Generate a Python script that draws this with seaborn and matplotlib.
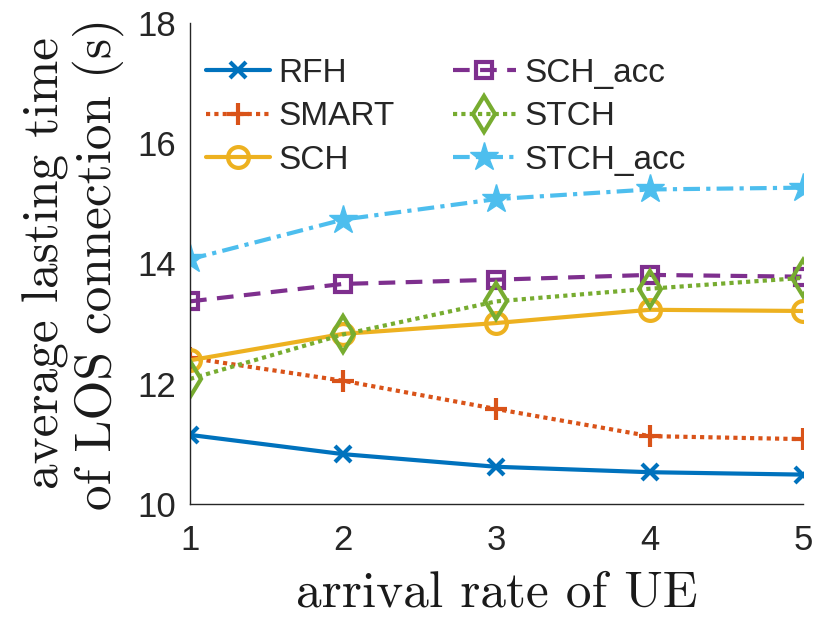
import matplotlib
matplotlib.use("Agg")
import matplotlib.pyplot as plt
import seaborn as sns
import pandas as pd

x = [1, 2, 3, 4, 5]
rfh = [11.15, 10.83, 10.62, 10.53, 10.49]
smart = [12.43, 12.05, 11.58, 11.13, 11.08]
sch = [12.39, 12.83, 13.01, 13.23, 13.21]
sch_acc = [13.37, 13.66, 13.73, 13.81, 13.78]
stch = [12.08, 12.82, 13.37, 13.58, 13.76]
stch_acc = [14.07, 14.73, 15.07, 15.23, 15.26]

names = ["RFH", "SMART", "SCH", "SCH_acc", "STCH", "STCH_acc"]
series = [rfh, smart, sch, sch_acc, stch, stch_acc]
colors = ["#0072BD", "#D95319", "#EDB120", "#7E2F8E", "#77AC30", "#4DBEEE"]
markers = ["x", "+", "o", "s", "d", "*"]
lstyles = ["-", (0, (1, 1)), "-", (0, (4, 2.5)), (0, (1, 1)), (0, (4, 1.5, 1, 1.5))]
msizes = [11, 16, 15, 12, 18, 21]
filled = [True, True, False, False, False, True]

sns.set_theme(style="white")
plt.rcParams["font.family"] = ["Liberation Sans", "DejaVu Sans"]

fig = plt.figure(figsize=(8.17, 6.17), dpi=100)
ax = fig.add_axes([0.2326, 0.183, 0.750, 0.780])

for name, vals, c, m, ls, ms, f in zip(names, series, colors, markers, lstyles, msizes, filled):
    df = pd.DataFrame({"x": x, "y": vals})
    sns.lineplot(data=df, x="x", y="y", ax=ax, color=c, linewidth=3,
                 marker=m, markersize=ms, label=name,
                 markerfacecolor=(c if f else "none"), markeredgecolor=c,
                 markeredgewidth=3 if m in ("x", "+", "o", "s", "d") else 1)
    ax.lines[-1].set_linestyle(ls)

ax.set_xlim(1, 5)
ax.set_ylim(10, 18)
ax.set_xticks([1, 2, 3, 4, 5])
ax.set_yticks([10, 12, 14, 16, 18])
ax.tick_params(axis="both", direction="in", length=6, width=1, labelsize=25,
               colors="#262626", labelcolor="#262626")
ax.tick_params(axis="x", pad=14)
ax.tick_params(axis="y", pad=10)
for s in ["top", "right"]:
    ax.spines[s].set_visible(False)
for s in ["left", "bottom"]:
    ax.spines[s].set_color("#262626")
    ax.spines[s].set_linewidth(1)

ax.set_xlabel("arrival rate of UE", fontfamily="cmr10", fontsize=37, color="#1a1a1a", labelpad=10)
ax.set_ylabel("average lasting time\nof LOS connection (s)", fontfamily="cmr10", fontsize=37,
              color="#1a1a1a", labelpad=10, linespacing=1.08)

handles, labels = ax.get_legend_handles_labels()
for h, ls in zip(handles, lstyles):
    h.set_linestyle(ls)
leg = ax.legend(handles, labels, ncol=2, loc="upper left", frameon=False,
                fontsize=24, handlelength=1.9, columnspacing=1.75,
                labelspacing=0.38, bbox_to_anchor=(0.005, 0.955), handletextpad=0.25,
                borderaxespad=0)

fig.savefig("out.png", dpi=100)
